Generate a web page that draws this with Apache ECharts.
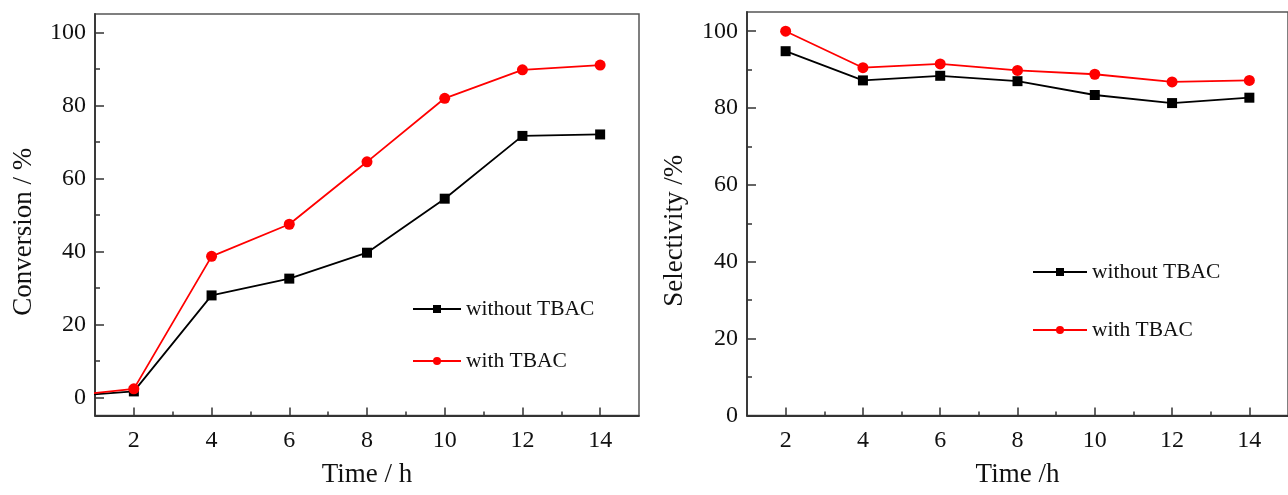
<!DOCTYPE html>
<html>
<head>
<meta charset="utf-8">
<script src="https://cdn.jsdelivr.net/npm/echarts@6/dist/echarts.min.js"></script>
<style>
html,body{margin:0;padding:0;background:#fff;}
#c{width:1288px;height:495px;}
</style>
</head>
<body>
<div id="c"></div>
<script>
// ---- data ----
const convTimes = [0, 2, 4, 6, 8, 10, 12, 14];
const convWithout = [0, 1.6, 27.9, 32.5, 39.6, 54.4, 71.6, 72.0];
const convWith = [0, 2.3, 38.6, 47.4, 64.5, 81.9, 89.7, 91.0];

const selTimes = [2, 4, 6, 8, 10, 12, 14];
const selWithout = [94.8, 87.2, 88.4, 87.0, 83.4, 81.3, 82.7];
const selWith = [100.0, 90.5, 91.5, 89.8, 88.8, 86.8, 87.2];

const xMajorTicks = [2, 4, 6, 8, 10, 12, 14];
const xMinorTicks = [3, 5, 7, 9, 11, 13];
const yMajorTicks = [0, 20, 40, 60, 80, 100];
const yMinorTicks = [10, 30, 50, 70, 90];

const seriesNames = ['without TBAC', 'with TBAC'];

// ---- chart ----
const FONT = 'Liberation Serif';
const AX = '#333';
const pairs = (xs, ys) => xs.map((x, i) => [x, ys[i]]);

function majorX(gi, name) {
  return {
    type: 'value', gridIndex: gi, position: 'bottom', min: 1, max: 15,
    name: name, nameLocation: 'middle', nameGap: 46,
    nameTextStyle: {fontFamily: FONT, fontSize: 27, color: '#111'},
    axisLine: {show: true, onZero: false, lineStyle: {color: AX, width: 1.8}},
    axisTick: {show: true, inside: true, length: 8, customValues: xMajorTicks, lineStyle: {color: AX, width: 1.5}},
    axisLabel: {customValues: xMajorTicks, fontFamily: FONT, fontSize: 24, color: '#111', margin: 13},
    splitLine: {show: false}
  };
}
function minorX(gi) {
  return {
    type: 'value', gridIndex: gi, position: 'bottom', min: 1, max: 15,
    axisLine: {show: false, onZero: false},
    axisTick: {show: true, inside: true, length: 4, customValues: xMinorTicks, lineStyle: {color: AX, width: 1.5}},
    axisLabel: {show: false},
    splitLine: {show: false}
  };
}
function majorY(gi, name, min, gap) {
  return {
    type: 'value', gridIndex: gi, position: 'left', min: min, max: 105,
    name: name, nameLocation: 'middle', nameGap: gap,
    nameTextStyle: {fontFamily: FONT, fontSize: 27, color: '#111', padding: [0, 34, 0, 0]},
    axisLine: {show: true, onZero: false, lineStyle: {color: AX, width: 1.8}},
    axisTick: {show: true, inside: true, length: 9, customValues: yMajorTicks, lineStyle: {color: AX, width: 1.5}},
    axisLabel: {customValues: yMajorTicks, fontFamily: FONT, fontSize: 24, color: '#111', margin: 9},
    splitLine: {show: false}
  };
}
function minorY(gi, min) {
  return {
    type: 'value', gridIndex: gi, position: 'left', min: min, max: 105,
    axisLine: {show: false, onZero: false},
    axisTick: {show: true, inside: true, length: 5, customValues: yMinorTicks, lineStyle: {color: AX, width: 1.5}},
    axisLabel: {show: false},
    splitLine: {show: false}
  };
}
function lineSeries(name, xi, yi, data, isRed) {
  return {
    name: name, type: 'line', xAxisIndex: xi, yAxisIndex: yi, data: data,
    symbol: isRed ? 'circle' : 'rect', symbolSize: isRed ? 11 : 10,
    clip: true, animation: false,
    lineStyle: {color: isRed ? '#ff0000' : '#000', width: 1.8},
    itemStyle: {color: isRed ? '#ff0000' : '#000'},
    z: isRed ? 3 : 2
  };
}
function legend(left, top, gap, w) {
  return {
    orient: 'vertical', left: left, top: top, itemGap: gap,
    itemWidth: w, itemHeight: 10,
    data: seriesNames,
    textStyle: {fontFamily: FONT, fontSize: 21.5, color: '#111', lineHeight: 24},
    selectedMode: false
  };
}

const chart = echarts.init(document.getElementById('c'), null, {renderer: 'canvas'});
chart.setOption({
  animation: false,
  backgroundColor: '#fff',
  grid: [
    {left: 95, top: 14, width: 544, height: 401.5, show: true, borderColor: '#555', borderWidth: 1.5, containLabel: false},
    {left: 747, top: 12, width: 548, height: 403.5, show: true, borderColor: '#555', borderWidth: 1.5, containLabel: false}
  ],
  xAxis: [majorX(0, 'Time / h'), minorX(0), majorX(1, 'Time /h'), minorX(1)],
  yAxis: [majorY(0, 'Conversion / %', -5, 58), minorY(0, -5), majorY(1, 'Selectivity /%', 0, 59), minorY(1, 0)],
  legend: [legend(407, 292, 28, 48), legend(1027, 255, 34, 54)],
  series: [
    lineSeries(seriesNames[0], 0, 0, pairs(convTimes, convWithout), false),
    lineSeries(seriesNames[1], 0, 0, pairs(convTimes, convWith), true),
    lineSeries(seriesNames[0], 2, 2, pairs(selTimes, selWithout), false),
    lineSeries(seriesNames[1], 2, 2, pairs(selTimes, selWith), true)
  ]
});
</script>
</body>
</html>
